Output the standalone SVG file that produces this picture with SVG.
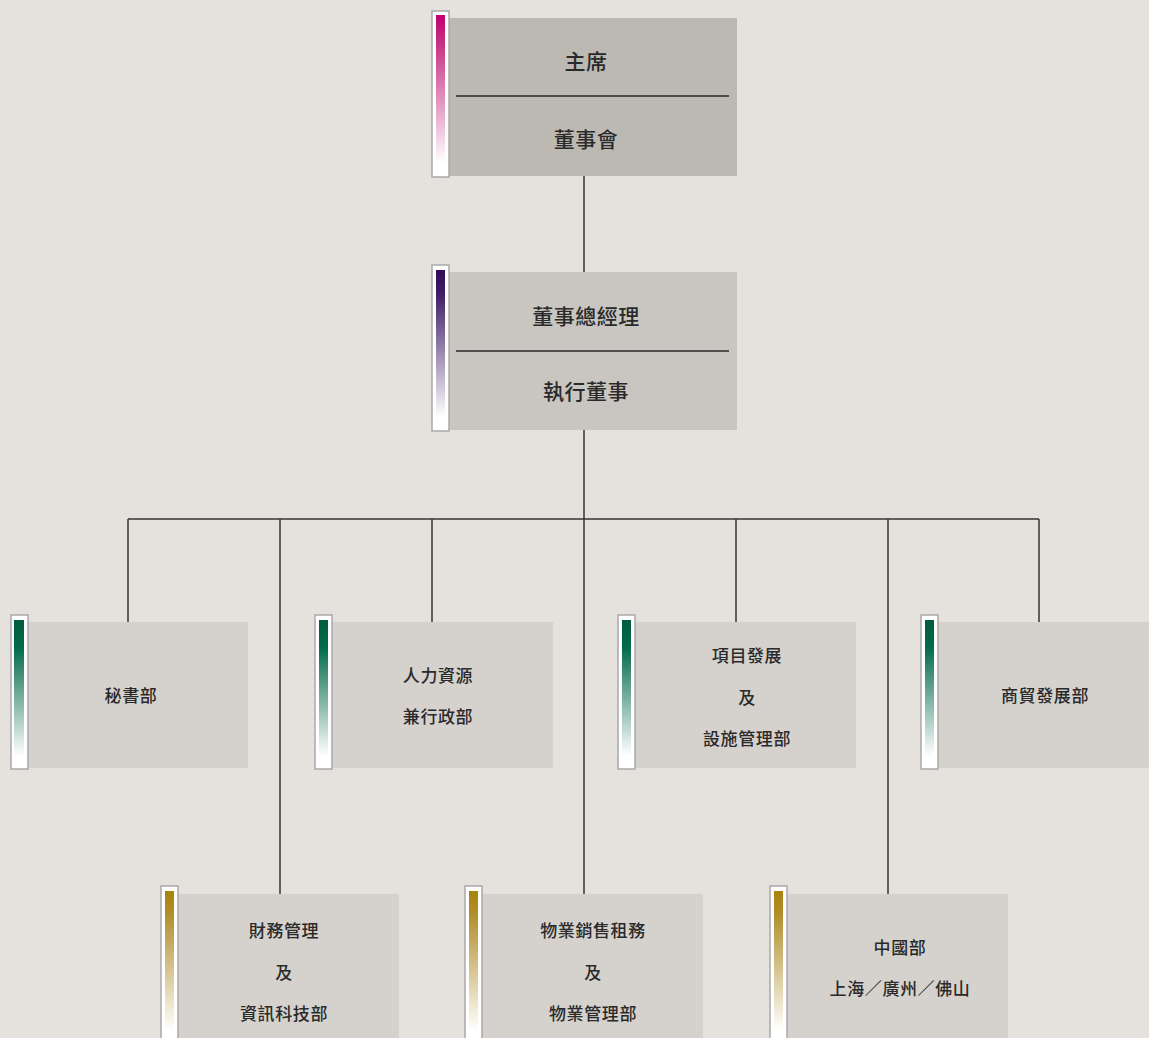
<svg xmlns="http://www.w3.org/2000/svg" width="1149" height="1038" viewBox="0 0 1149 1038">
<defs>
<linearGradient id="gMag" x1="0" y1="0" x2="0" y2="1">
<stop offset="0" stop-color="#c2006f"/><stop offset="0.15" stop-color="#c62a80"/><stop offset="0.92" stop-color="#ffffff"/><stop offset="1" stop-color="#ffffff"/>
</linearGradient>
<linearGradient id="gPur" x1="0" y1="0" x2="0" y2="1">
<stop offset="0" stop-color="#330a55"/><stop offset="0.15" stop-color="#3f1e66"/><stop offset="0.92" stop-color="#ffffff"/><stop offset="1" stop-color="#ffffff"/>
</linearGradient>
<linearGradient id="gGrn" x1="0" y1="0" x2="0" y2="1">
<stop offset="0" stop-color="#005c3c"/><stop offset="0.18" stop-color="#006b48"/><stop offset="0.92" stop-color="#ffffff"/><stop offset="1" stop-color="#ffffff"/>
</linearGradient>
<linearGradient id="gGld" x1="0" y1="0" x2="0" y2="1">
<stop offset="0" stop-color="#a9820c"/><stop offset="0.15" stop-color="#b08e2a"/><stop offset="0.95" stop-color="#ffffff"/><stop offset="1" stop-color="#ffffff"/>
</linearGradient>
</defs>
<style>
.bar{fill:#ffffff;stroke:#a9a9a9;stroke-width:1.5}
.b1{fill:#bcb9b3}
.b2{fill:#c9c6c1}
.b3{fill:#d5d2ce}
.div{stroke:#2a2a2a;stroke-width:1.5}
.con{stroke:#333333;stroke-width:1.5;fill:none}
text{font-family:"Noto Sans CJK TC","Noto Sans CJK SC",sans-serif;fill:#2a2a2a;text-anchor:middle;dominant-baseline:central}
.t1{font-size:21px;font-weight:500;letter-spacing:0.5px}
.t2{font-size:17px;font-weight:500;letter-spacing:0.6px}
</style>
<rect width="1149" height="1038" fill="#e5e2dd"/>
<g id="connectors">
<line class="con" x1="584" y1="176" x2="584" y2="272"/>
<line class="con" x1="584" y1="430" x2="584" y2="894"/>
<line class="con" x1="128" y1="519" x2="1039" y2="519"/>
<line class="con" x1="128" y1="519" x2="128" y2="622"/>
<line class="con" x1="280" y1="519" x2="280" y2="894"/>
<line class="con" x1="432" y1="519" x2="432" y2="622"/>
<line class="con" x1="736" y1="519" x2="736" y2="622"/>
<line class="con" x1="888" y1="519" x2="888" y2="894"/>
<line class="con" x1="1039" y1="519" x2="1039" y2="622"/>
</g>
<g id="chair">
<rect class="b1" x="449" y="18" width="288" height="158"/>
<rect class="bar" x="432" y="11" width="17" height="166"/>
<rect x="436" y="15" width="9" height="161" fill="url(#gMag)"/>
<line class="div" x1="456" y1="96" x2="729" y2="96"/>
<text class="t1" x="586" y="59.5">主席</text>
<text class="t1" x="586" y="137.5">董事會</text>
</g>
<g id="md">
<rect class="b2" x="449" y="272" width="288" height="158"/>
<rect class="bar" x="432" y="265" width="17" height="166"/>
<rect x="436" y="270" width="9" height="160" fill="url(#gPur)"/>
<line class="div" x1="456" y1="351" x2="729" y2="351"/>
<text class="t1" x="586" y="314.5">董事總經理</text>
<text class="t1" x="586" y="389.5">執行董事</text>
</g>
<g id="secretary">
<rect class="b3" x="28" y="622" width="220" height="146"/>
<rect class="bar" x="11" y="615" width="17" height="154"/>
<rect x="14" y="620" width="10" height="148" fill="url(#gGrn)"/>
<text class="t2" x="131" y="694.5">秘書部</text>
</g>
<g id="hr">
<rect class="b3" x="332" y="622" width="221" height="146"/>
<rect class="bar" x="315" y="615" width="17" height="154"/>
<rect x="319" y="620" width="9" height="148" fill="url(#gGrn)"/>
<text class="t2" x="438" y="674.5">人力資源</text>
<text class="t2" x="438" y="715.5">兼行政部</text>
</g>
<g id="project">
<rect class="b3" x="635" y="622" width="221" height="146"/>
<rect class="bar" x="618" y="615" width="17" height="154"/>
<rect x="622" y="620" width="9" height="148" fill="url(#gGrn)"/>
<text class="t2" x="747" y="654.5">項目發展</text>
<text class="t2" x="747" y="696.5">及</text>
<text class="t2" x="747" y="737.5">設施管理部</text>
</g>
<g id="trade">
<rect class="b3" x="938" y="622" width="211" height="146"/>
<rect class="bar" x="921" y="615" width="17" height="154"/>
<rect x="925" y="620" width="9" height="148" fill="url(#gGrn)"/>
<text class="t2" x="1045" y="694.5">商貿發展部</text>
</g>
<g id="finance">
<rect class="b3" x="178" y="894" width="221" height="144"/>
<rect class="bar" x="161" y="886" width="17" height="153"/>
<rect x="165" y="891" width="9" height="147" fill="url(#gGld)"/>
<text class="t2" x="284" y="929.5">財務管理</text>
<text class="t2" x="284" y="971.5">及</text>
<text class="t2" x="284" y="1012.5">資訊科技部</text>
</g>
<g id="property">
<rect class="b3" x="482" y="894" width="221" height="144"/>
<rect class="bar" x="465" y="886" width="17" height="153"/>
<rect x="469" y="891" width="9" height="147" fill="url(#gGld)"/>
<text class="t2" x="593" y="929.5">物業銷售租務</text>
<text class="t2" x="593" y="971.5">及</text>
<text class="t2" x="593" y="1012.5">物業管理部</text>
</g>
<g id="china">
<rect class="b3" x="787" y="894" width="221" height="144"/>
<rect class="bar" x="770" y="886" width="17" height="153"/>
<rect x="774" y="891" width="9" height="147" fill="url(#gGld)"/>
<text class="t2" x="900" y="946.5">中國部</text>
<text class="t2" x="900" y="987.5">上海／廣州／佛山</text>
</g>
</svg>
